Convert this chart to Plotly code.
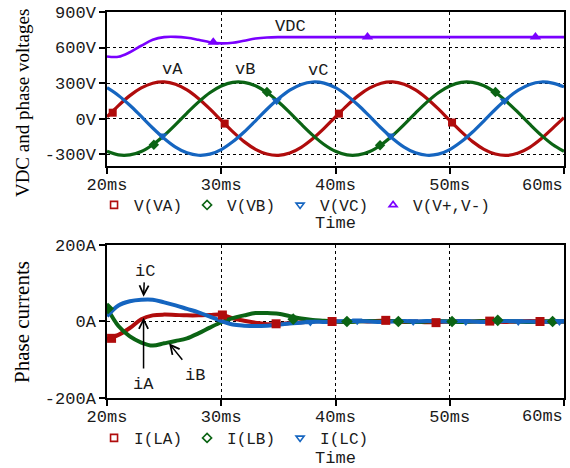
import plotly.graph_objects as go

# ---------------- data ----------------
t_ms = [20, 21, 22, 23, 24, 25, 26, 27, 28, 29,
        30, 31, 32, 33, 34, 35, 36, 37, 38, 39,
        40, 41, 42, 43, 44, 45, 46, 47, 48, 49,
        50, 51, 52, 53, 54, 55, 56, 57, 58, 59, 60]

v_a = [15, 110, 194, 259, 299, 310, 290, 242, 170, 82,
       -15, -110, -194, -259, -299, -310, -290, -242, -170, -82,
       15, 110, 194, 259, 299, 310, 290, 242, 170, 82,
       -15, -110, -194, -259, -299, -310, -290, -242, -170, -82, 8]
v_b = [-276, -306, -306, -277, -220, -142, -50, 47, 139, 218,
       275, 306, 306, 277, 220, 142, 50, -47, -139, -218,
       -276, -306, -306, -277, -220, -142, -50, 47, 139, 218,
       275, 306, 306, 277, 220, 142, 50, -47, -139, -218, -276]
v_c = [261, 196, 113, 18, -79, -167, -240, -289, -309, -300,
       -261, -196, -113, -18, 79, 167, 240, 289, 309, 300,
       261, 196, 113, 18, -79, -167, -240, -289, -309, -300,
       -261, -196, -113, -18, 79, 167, 240, 289, 309, 300, 268]
v_dc = [525, 522, 560, 615, 665, 688, 690, 682, 665, 645,
        635, 640, 658, 676, 685, 688, 688, 688, 688, 688,
        688, 688, 688, 688, 688, 688, 688, 688, 688, 688,
        688, 688, 688, 688, 688, 688, 688, 688, 688, 688, 688]

i_a = [-46, -35, -17, 6, 16, 18, 17, 16, 16, 17,
       18, 8, 2, -3, -7, -7, -4, -2, 0, 1,
       0, -1, 1, 0, 2, 1, -1, 0, -2, -2,
       0, 1, 0, 1, 0, -1, 0, 1, 0, -1, 0]
i_b = [36, -12, -39, -55, -63, -57, -51, -44, -31, -16,
       -2, 9, 16, 22, 22, 20, 14, 8, 4, 2,
       0, -1, 0, 1, 0, 1, 0, -1, 0, 1,
       0, -1, 0, 1, 2, 1, 0, -1, 0, 1, 0]
i_c = [14, 42, 53, 57, 57, 50, 42, 33, 24, 13,
       1, -8, -11, -12, -11, -8, -5, -3, -1, -1,
       0, 1, 1, 0, -1, 0, 1, 0, 1, 0,
       0, 1, 0, -1, 0, 1, 0, 0, -1, 0, 0]

# trace marker points (PSpice symbols)
va_mk_t = [20.5, 30.3, 40.3, 50.2]
va_mk_v = [50, -42, 42, -33]
vb_mk_t = [24.1, 34.0, 43.9, 54.0]
vb_mk_v = [-220, 225, -225, 225]
vc_mk_t = [24.85, 34.85, 44.8, 54.8]
vc_mk_v = [-145, 150, -145, 150]
vdc_mk_t = [29.3, 42.8, 57.5]
vdc_mk_v = [645, 688, 688]

ia_mk_t = [20.4, 30.1, 34.8, 39.7, 44.4, 48.8, 53.5, 57.9]
ia_mk_v = [-44, 17, -6, 0, 3, -3, 1, 0]
ib_mk_t = [20.1, 36.3, 41.0, 45.5, 50.2, 54.2, 59.0]
ib_mk_v = [34, 6, 0, 0, 0, 3, 0]
ic_mk_t = [37.8, 41.9, 46.8, 51.4, 56.0, 59.6]
ic_mk_v = [-1, 2, 0, 0, 0, 0]

x_tick_vals = [20, 30, 40, 50, 60]
x_tick_text = ["20ms", "30ms", "40ms", "50ms", "60ms"]
v_tick_vals = [-300, 0, 300, 600, 900]
v_tick_text = ["-300V", "0V", "300V", "600V", "900V"]
i_tick_vals = [-200, 0, 200]
i_tick_text = ["-200A", "0A", "200A"]

v_names = ["V(VA)", "V(VB)", "V(VC)", "V(V+,V-)"]
i_names = ["I(LA)", "I(LB)", "I(LC)"]

# ---------------- style ----------------
RED = "#b00c0c"
GREEN = "#0b6414"
BLUE = "#1565c0"
PURPLE = "#7a00ff"
MONO = "Courier New, Liberation Mono, monospace"
SERIF = "Liberation Serif, Times New Roman, serif"
FS = 17
TXT_COLOR = "#1a1a1a"

fig = go.Figure()

def line(x, y, color, xa, ya, width=3):
    fig.add_trace(go.Scatter(x=x, y=y, mode="lines", line=dict(color=color, width=width, shape="spline"),
                             xaxis=xa, yaxis=ya, showlegend=False, hoverinfo="skip"))

def marks(x, y, color, symbol, xa, ya, size=8):
    fig.add_trace(go.Scatter(x=x, y=y, mode="markers",
                             marker=dict(color=color, symbol=symbol, size=size, line=dict(width=0)),
                             xaxis=xa, yaxis=ya, showlegend=False, hoverinfo="skip"))

def legend_item(name, color, symbol, legend):
    fig.add_trace(go.Scatter(x=[None], y=[None], mode="markers", name=name,
                             marker=dict(color=color, symbol=symbol, size=7, line=dict(width=1.6, color=color)),
                             legend=legend))

# top: voltages
line(t_ms, v_a, RED, "x", "y", width=3.2)
line(t_ms, v_b, GREEN, "x", "y", width=3.2)
line(t_ms, v_c, BLUE, "x", "y", width=3.2)
line(t_ms, v_dc, PURPLE, "x", "y", width=2.6)
marks(va_mk_t, va_mk_v, RED, "square", "x", "y")
marks(vb_mk_t, vb_mk_v, GREEN, "diamond", "x", "y")
marks(vc_mk_t, vc_mk_v, BLUE, "triangle-down", "x", "y", size=9)
marks(vdc_mk_t, vdc_mk_v, PURPLE, "triangle-up", "x", "y", size=10)

# bottom: currents
line(t_ms, i_a, RED, "x2", "y2", width=4)
line(t_ms, i_b, GREEN, "x2", "y2", width=4)
line(t_ms, i_c, BLUE, "x2", "y2", width=4)
marks(ia_mk_t, ia_mk_v, RED, "square", "x2", "y2", size=9)
marks(ib_mk_t, ib_mk_v, GREEN, "diamond", "x2", "y2", size=9)
marks(ic_mk_t, ic_mk_v, BLUE, "triangle-down", "x2", "y2", size=9)

legend_item(v_names[0], RED, "square-open", "legend")
legend_item(v_names[1], GREEN, "diamond-open", "legend")
legend_item(v_names[2], BLUE, "triangle-down-open", "legend")
legend_item(v_names[3], PURPLE, "triangle-up-open", "legend")
legend_item(i_names[0], RED, "square-open", "legend2")
legend_item(i_names[1], GREEN, "diamond-open", "legend2")
legend_item(i_names[2], BLUE, "triangle-down-open", "legend2")

axis_common = dict(showline=True, mirror=True, linecolor="black", linewidth=1.5,
                   ticks="outside", ticklen=6, tickcolor="black", tickwidth=1.5,
                   showgrid=True, gridcolor="black", griddash="dot", gridwidth=1,
                   zeroline=False,
                   tickfont=dict(family=MONO, size=FS, color=TXT_COLOR))

# the last x tick label sits right-aligned at the frame edge (as in the reference),
# so it is drawn as an annotation anchored to the 60 ms tick
x_axis_text = x_tick_text[:-1] + [""]

fig.update_layout(
    width=570, height=468,
    margin=dict(l=107, r=6, t=12, b=70, autoexpand=False),
    paper_bgcolor="white", plot_bgcolor="white",
    xaxis=dict(domain=[0, 1], anchor="y", range=[20, 60], tickvals=x_tick_vals, ticktext=x_axis_text,
               ticklabelstandoff=-4,
               title=dict(text="Time", font=dict(family=MONO, size=FS, color=TXT_COLOR), standoff=22),
               **axis_common),
    yaxis=dict(domain=[0.601, 1], anchor="x", range=[-400, 900], tickvals=v_tick_vals, ticktext=v_tick_text,
               **axis_common),
    xaxis2=dict(domain=[0, 1], anchor="y2", range=[20, 60], tickvals=x_tick_vals, ticktext=x_axis_text,
                ticklabelstandoff=-4,
                title=dict(text="Time", font=dict(family=MONO, size=FS, color=TXT_COLOR), standoff=27),
                **axis_common),
    yaxis2=dict(domain=[0, 0.3964], anchor="x2", range=[-200, 200], tickvals=i_tick_vals, ticktext=i_tick_text,
                **axis_common),
    legend=dict(orientation="h", xref="container", x=0.165, xanchor="left", y=0.5, yanchor="middle",
                font=dict(family=MONO, size=16, color=TXT_COLOR), bgcolor="rgba(0,0,0,0)",
                itemwidth=30, traceorder="normal"),
    legend2=dict(orientation="h", xref="container", x=0.165, xanchor="left", y=-0.1036, yanchor="middle",
                 font=dict(family=MONO, size=16, color=TXT_COLOR), bgcolor="rgba(0,0,0,0)",
                 itemwidth=30, traceorder="normal"),
    showlegend=True,
)

txt = dict(family=MONO, size=FS, color=TXT_COLOR)
ann = [
    dict(x=x_tick_vals[-1], y=-400, xref="x", yref="y", text=x_tick_text[-1], showarrow=False, font=txt,
         xanchor="right", yanchor="middle", yshift=-19, xshift=1),
    dict(x=x_tick_vals[-1], y=-200, xref="x2", yref="y2", text=x_tick_text[-1], showarrow=False, font=txt,
         xanchor="right", yanchor="middle", yshift=-19, xshift=1),
    dict(x=36.1, y=778, xref="x", yref="y", text="VDC", showarrow=False, font=txt),
    dict(x=25.7, y=414, xref="x", yref="y", text="vA", showarrow=False, font=txt),
    dict(x=32.1, y=414, xref="x", yref="y", text="vB", showarrow=False, font=txt),
    dict(x=38.5, y=406, xref="x", yref="y", text="vC", showarrow=False, font=txt),
    dict(x=23.2, y=65, xref="x2", yref="y2", ax=23.3, ay=131, axref="x2", ayref="y2",
         text="iC", showarrow=True, arrowhead=5, arrowsize=1.2, arrowwidth=1.5, arrowcolor="black",
         font=txt, startstandoff=0),
    dict(x=23.2, y=10, xref="x2", yref="y2", ax=23.2, ay=-165, axref="x2", ayref="y2",
         text="iA", showarrow=True, arrowhead=5, arrowsize=1.2, arrowwidth=1.5, arrowcolor="black",
         font=txt, startstandoff=5),
    dict(x=25.43, y=-57, xref="x2", yref="y2", ax=27.7, ay=-141, axref="x2", ayref="y2",
         text="iB", showarrow=True, arrowhead=5, arrowsize=1.2, arrowwidth=1.5, arrowcolor="black",
         font=txt, startstandoff=6),
    dict(x=-0.186, y=0.764, xref="paper", yref="paper", text="VDC and phase voltages", textangle=-90,
         showarrow=False, font=dict(family=SERIF, size=19, color="black"), xanchor="center", yanchor="middle"),
    dict(x=-0.186, y=0.197, xref="paper", yref="paper", text="Phase currents", textangle=-90,
         showarrow=False, font=dict(family=SERIF, size=21, color="black"), xanchor="center", yanchor="middle"),
]
fig.update_layout(annotations=ann)

# remove the default 8px page margin so the 570x468 figure fills the window exactly
fig.write_html("out.html", config={"displayModeBar": False},
               post_script="document.body.style.margin='0';")
